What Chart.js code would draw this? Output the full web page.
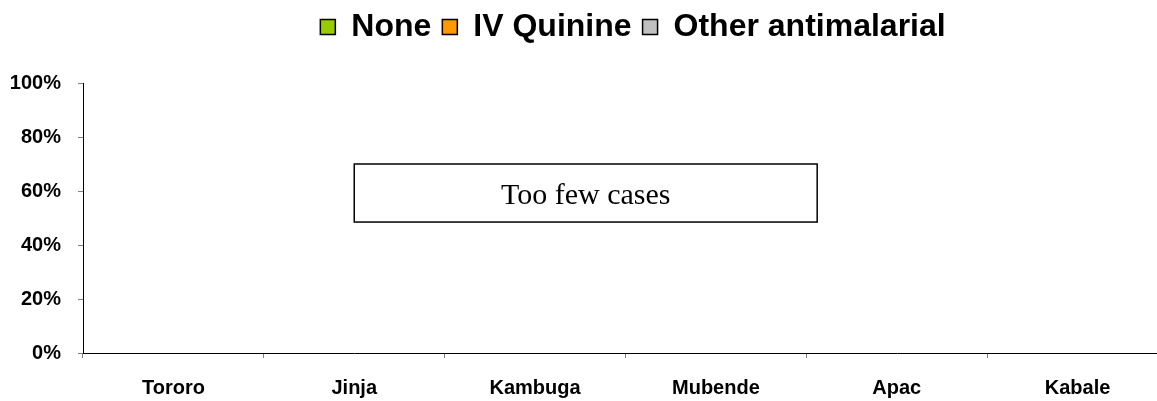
<!DOCTYPE html>
<html>
<head>
<meta charset="utf-8">
<script src="https://cdn.jsdelivr.net/npm/chart.js@4.4.1/dist/chart.umd.min.js"></script>
<style>
  html, body { margin: 0; padding: 0; background: #fff; overflow: hidden; }
  #wrap { width: 1266px; height: 401px; }
</style>
</head>
<body>
<div id="wrap"><canvas id="chart" width="1266" height="401"></canvas></div>
<script>
// Datos del gráfico
const districts = ['Tororo', 'Jinja', 'Kambuga', 'Mubende', 'Apac', 'Kabale'];
const noneValues = [null, null, null, null, null, null];
const quinineValues = [null, null, null, null, null, null];
const otherValues = [null, null, null, null, null, null];
const yTicks = [0, 20, 40, 60, 80, 100];
const noteText = 'Too few cases';

// Recuadro "Too few cases" dibujado con las escalas
const notePlugin = {
    id: 'noteBox',
    beforeLayout(chart) {
        // dejar la leyenda arriba y el espacio debajo de ella
        const legend = chart.legend;
        if (legend && !legend._patched) {
            const origFit = legend.fit;
            legend.fit = function() {
                origFit.call(this);
                this.height += 30;
            };
            legend._patched = true;
        }
    },
    afterDatasetsDraw(chart) {
        const x = chart.scales.x;
        const y = chart.scales.y;
        const left = x.getPixelForValue(1);
        const right = x.getPixelForValue(3.56);
        const top = y.getPixelForValue(70);
        const bottom = y.getPixelForValue(48.5);
        const ctx = chart.ctx;
        ctx.save();
        ctx.fillStyle = '#ffffff';
        ctx.fillRect(left, top, right - left, bottom - top);
        ctx.strokeStyle = '#000000';
        ctx.lineWidth = 1.5;
        ctx.strokeRect(left, top, right - left, bottom - top);
        ctx.fillStyle = '#000000';
        ctx.font = '30px "Liberation Serif", "Times New Roman", serif';
        ctx.textAlign = 'center';
        ctx.textBaseline = 'middle';
        ctx.fillText(noteText, (left + right) / 2, (top + bottom) / 2 + 3);
        ctx.restore();
    }
};

const ctx = document.getElementById('chart').getContext('2d');
const chart = new Chart(ctx, {
    type: 'bar',
    data: {
        labels: districts,
        datasets: [
            { label: 'None', data: noneValues, backgroundColor: '#99cc00', borderColor: '#000000', borderWidth: 1.5 },
            { label: 'IV Quinine', data: quinineValues, backgroundColor: '#ff9900', borderColor: '#000000', borderWidth: 1.5 },
            { label: 'Other antimalarial', data: otherValues, backgroundColor: '#c0c0c0', borderColor: '#000000', borderWidth: 1.5 }
        ]
    },
    options: {
        responsive: false,
        animation: false,
        layout: { padding: { top: 0, left: 0, right: 0, bottom: 0 } },
        plugins: {
            legend: {
                display: true,
                position: 'top',
                labels: {
                    boxWidth: 15,
                    boxHeight: 15,
                    padding: 11,
                    color: '#000000',
                    font: { family: '"Liberation Sans", Arial, sans-serif', size: 32, weight: 'bold' }
                }
            },
            tooltip: { enabled: false }
        },
        scales: {
            x: {
                stacked: true,
                grid: { display: true, drawOnChartArea: false, drawTicks: true, tickLength: 5, color: '#808080', offset: true },
                border: { display: true, color: '#000000', width: 1 },
                ticks: {
                    color: '#000000',
                    padding: 18,
                    maxRotation: 0,
                    font: { family: '"Liberation Sans", Arial, sans-serif', size: 20, weight: 'bold' }
                },
                afterFit: s => { s.height = 48; }
            },
            y: {
                stacked: true,
                min: 0,
                max: 100,
                afterBuildTicks: s => { s.ticks = yTicks.map(v => ({ value: v })); },
                grid: { display: true, drawOnChartArea: false, drawTicks: true, tickLength: 5, color: '#808080' },
                border: { display: true, color: '#000000', width: 1 },
                ticks: {
                    color: '#000000',
                    padding: 17,
                    callback: v => v + '%',
                    font: { family: '"Liberation Sans", Arial, sans-serif', size: 20, weight: 'bold' }
                },
                afterFit: s => { s.width = 83; }
            },
            // eje vacío a la derecha para centrar la leyenda como en el original
            spacer: {
                type: 'linear',
                position: 'right',
                display: true,
                grid: { display: false },
                border: { display: false },
                ticks: { display: false },
                afterFit: s => { s.width = 98; }
            }
        }
    },
    plugins: [notePlugin]
});
</script>
</body>
</html>
